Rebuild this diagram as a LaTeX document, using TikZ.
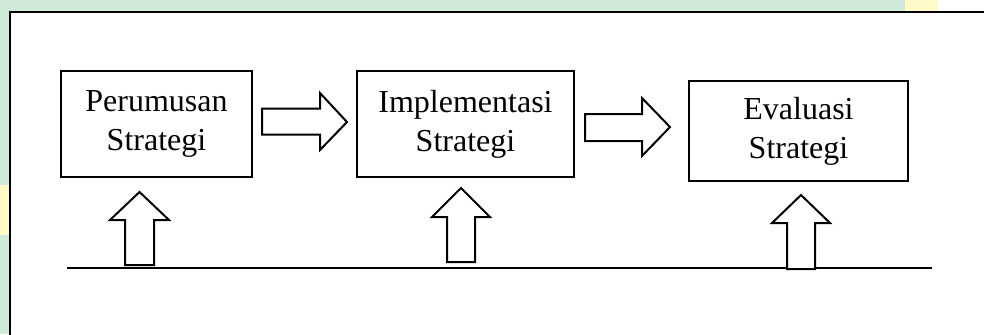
\documentclass[tikz,border=0pt]{standalone}
\usepackage{fontspec}
\setmainfont{Liberation Serif}
\definecolor{wmgreen}{RGB}{207,234,216}
\definecolor{wmyellow}{RGB}{255,250,200}
\begin{document}
\begin{tikzpicture}[x=0.5pt,y=-0.5pt,
  stagebox/.style={draw=black,line width=1.3pt,fill=white,align=center,
    font=\fontsize{16pt}{19.5pt}\selectfont,inner sep=0pt},
  blockarrow/.style={draw=black,line width=1pt,fill=white,line join=miter},
  baseline/.style={draw=black,line width=1.2pt}]
\useasboundingbox (0,0) rectangle (984,334);
% background margins (watermark colours)
\fill[wmgreen] (0,0) rectangle (984,334);
\fill[wmyellow] (905,0) rectangle (938,12);
\fill[white] (938,0) rectangle (984,12);
\fill[wmyellow] (0,185) rectangle (10,235);
% outer frame
\fill[white] (10,12) rectangle (990,340);
\draw[line width=1.25pt] (10,340) -- (10,12) -- (990,12);
% stages
\node[stagebox,minimum width=95.5pt,minimum height=53pt] (p) at (156.5,124) {Perumusan\\Strategi};
\node[stagebox,minimum width=108.5pt,minimum height=53pt] (i) at (465.5,124) {Implementasi\\Strategi};
\node[stagebox,minimum width=109.5pt,minimum height=50pt] (e) at (798.5,131) {Evaluasi\\Strategi};
% horizontal line
\coordinate (l1) at (67,268);
\coordinate (l2) at (932,268);
\draw[baseline] (l1) -- (l2);
% right block arrows
\draw[blockarrow] (262,108.5) -- (320,108.5) -- (320,93) -- (347,122) -- (320,150) -- (320,134.5) -- (262,134.5) -- cycle;
\draw[blockarrow] (585,114) -- (642,114) -- (642,98) -- (670,127) -- (642,156) -- (642,141) -- (585,141) -- cycle;
% up block arrows
\draw[blockarrow] (125,265) -- (125,220) -- (110,220) -- (139.5,192) -- (169,220) -- (154,220) -- (154,265) -- cycle;
\draw[blockarrow] (447,262) -- (447,217) -- (432,217) -- (461,188) -- (490,217) -- (475,217) -- (475,262) -- cycle;
\draw[blockarrow] (787,269) -- (787,223) -- (772,223) -- (801,195) -- (830,223) -- (815,223) -- (815,269) -- cycle;
\end{tikzpicture}
\end{document}
